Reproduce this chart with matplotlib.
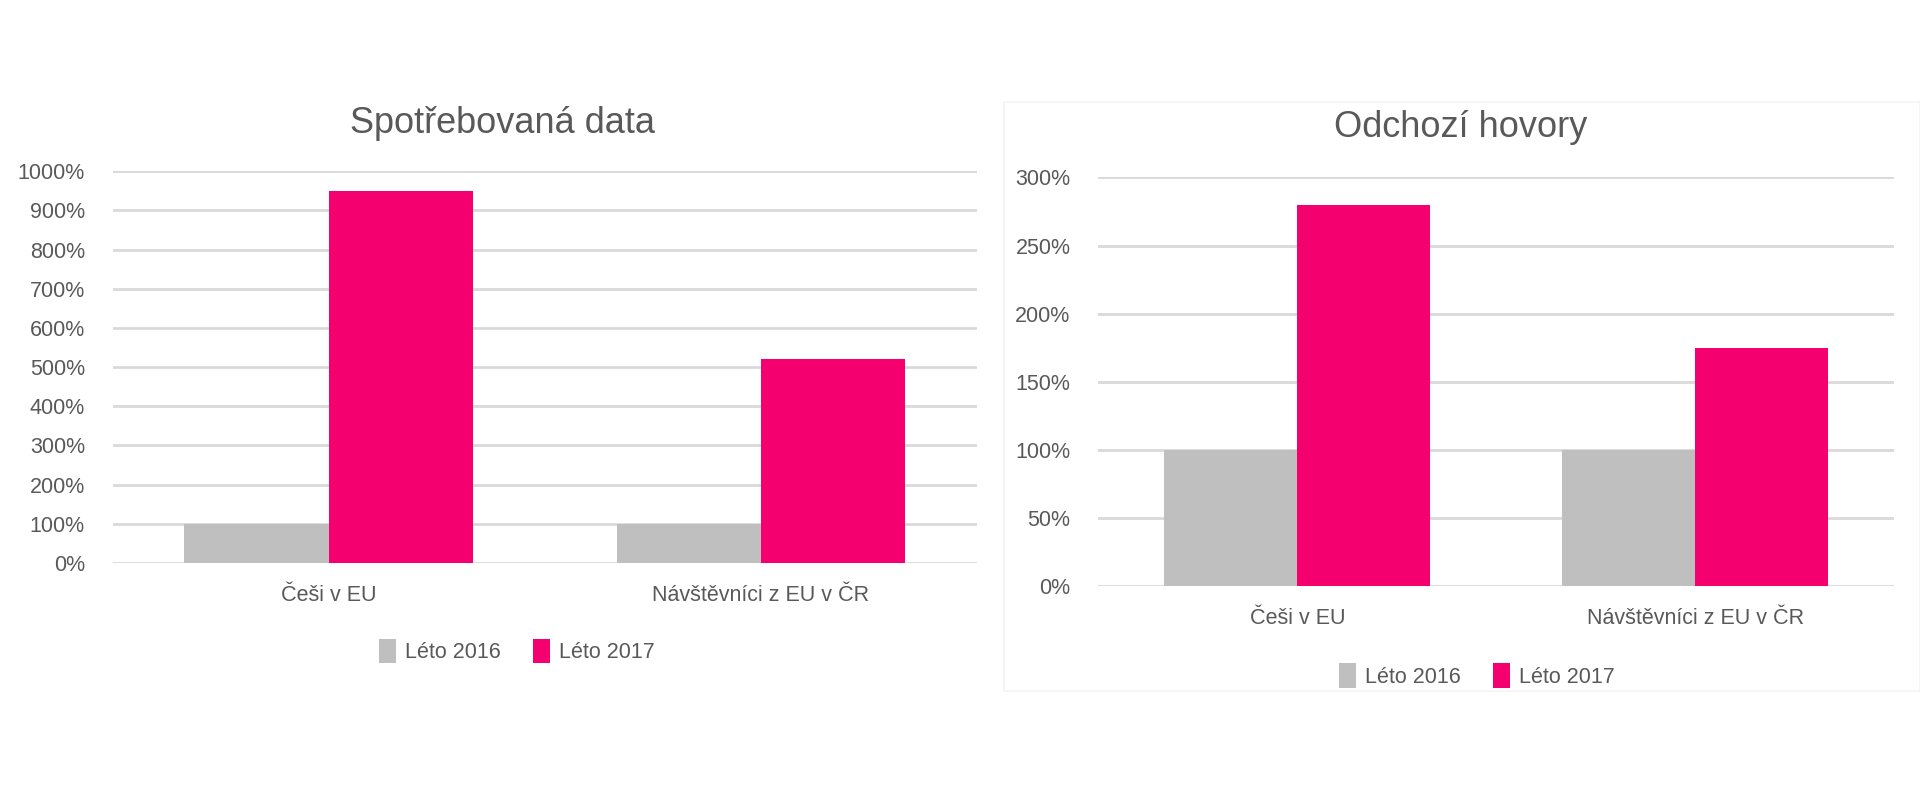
import matplotlib
matplotlib.use("Agg")
import matplotlib.pyplot as plt
import numpy as np
from matplotlib.patches import Rectangle

categories = ["Češi v EU", "Návštěvníci z EU v ČR"]
series_names = ["Léto 2016", "Léto 2017"]
data_2016 = [100, 100]
data_2017 = [950, 520]
calls_2016 = [100, 100]
calls_2017 = [280, 175]
titles = ["Spotřebovaná data", "Odchozí hovory"]
ticks_left = [0, 100, 200, 300, 400, 500, 600, 700, 800, 900, 1000]
ticks_right = [0, 50, 100, 150, 200, 250, 300]

GRAY = "#bfbfbf"
PINK = "#f5006f"
TXT = "#595959"
GRID = "#d9d9d9"
FAM = ["Liberation Sans", "DejaVu Sans"]
plt.rcParams['font.family'] = FAM

W, H = 1568.0, 644.0
fig = plt.figure(figsize=(19.2, 7.88), dpi=100)

def fx(x): return x / W
def fy(y): return 1 - y / H

# faint panel border for right chart
fig.patches.append(Rectangle((fx(820), fy(565)), 1 - fx(820), fy(83) - fy(565),
                             transform=fig.transFigure, fill=False, edgecolor="#f3f3f3", lw=1.2))

def draw(ax, v1, v2, ticks, ymax, title, title_xy, leg_y, leg_x):
    x = np.arange(len(categories))
    w = 0.334
    ax.bar(x - w / 2, v1, w, color=GRAY, label=series_names[0], zorder=3)
    ax.bar(x + w / 2, v2, w, color=PINK, label=series_names[1], zorder=3)
    ax.set_xlim(-0.5, len(categories) - 0.5)
    ax.set_ylim(0, ymax)
    ax.set_yticks(ticks)
    ax.set_yticklabels([f"{t}%" for t in ticks])
    ax.set_xticks(x)
    ax.set_xticklabels(categories)
    ax.tick_params(axis='both', length=0, labelsize=15.5, colors=TXT)
    ax.tick_params(axis='y', pad=20)
    ax.tick_params(axis='x', pad=16)
    for s in ax.spines.values():
        s.set_visible(False)
    ax.grid(axis='y', color=GRID, lw=2, zorder=0)
    ax.set_axisbelow(True)
    fig.text(fx(title_xy[0]), fy(title_xy[1]), title, ha='center', va='center',
             fontsize=26, color=TXT)
    ax.legend(loc='center', bbox_to_anchor=(fx(leg_x), fy(leg_y)),
              bbox_transform=fig.transFigure, ncol=2, frameon=False,
              fontsize=15.5, handlelength=0.8, handleheight=1.4,
              handletextpad=0.4, columnspacing=1.5, labelcolor=TXT)

ax1 = fig.add_axes([fx(92), fy(460), fx(798) - fx(92), fy(140) - fy(460)])
draw(ax1, data_2016, data_2017, ticks_left, 1000, titles[0], (410, 101), 532, 422)

ax2 = fig.add_axes([fx(897), fy(479), fx(1547) - fx(897), fy(145) - fy(479)])
draw(ax2, calls_2016, calls_2017, ticks_right, 300, titles[1], (1193, 104), 552, 1206)

fig.savefig("out.png", dpi=100, facecolor="white")
